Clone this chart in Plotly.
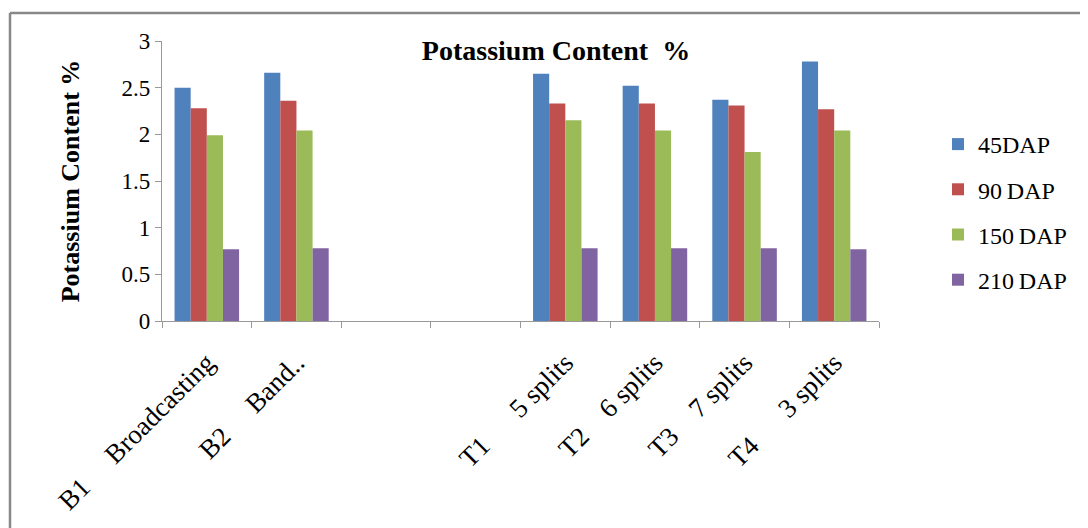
import plotly.graph_objects as go

NB = "\u00a0"
categories = ["B1" + NB*5 + "Broadcasting", "B2" + NB*5 + "Band..", NB, NB*2,
              "T1" + NB*6 + "5 splits", "T2" + NB*4 + "6 splits", "T3" + NB*4 + "7 splits", "T4" + NB*6 + "3 splits"]
series_names = ["45DAP", "90\u2009DAP", "150\u2009DAP", "210\u2009DAP"]
dap45 = [2.50, 2.66, None, None, 2.65, 2.52, 2.37, 2.78]
dap90 = [2.28, 2.36, None, None, 2.33, 2.33, 2.31, 2.27]
dap150 = [1.99, 2.04, None, None, 2.15, 2.04, 1.81, 2.04]
dap210 = [0.77, 0.78, None, None, 0.78, 0.78, 0.78, 0.77]
colors = ["#4F81BD", "#C0504D", "#9BBB59", "#8064A2"]

fig = go.Figure()
for i, (name, vals) in enumerate(zip(series_names, [dap45, dap90, dap150, dap210])):
    fig.add_trace(go.Bar(x=categories, y=vals, name=name, marker_color=colors[i],
                         marker_line_width=0, legendgroup=f"g{i}"))

OFF = 8  # page body margin
W, H = 1088, 528
L, R, T, B = 162 - OFF, 879 - OFF, 41 - OFF, 321 - OFF
pw, ph = R - L, B - T

def px_x(x):
    return (x - OFF - L) / pw

def px_y(y):
    return (B - (y - OFF)) / ph

fig.update_layout(
    width=W, height=H,
    margin=dict(l=L, r=W - R, t=T, b=H - B),
    paper_bgcolor="white", plot_bgcolor="white",
    font=dict(family="Liberation Serif", color="black", size=22),
    barmode="group", bargap=0.28, bargroupgap=0,
    showlegend=True,
    legend=dict(x=px_x(938), y=px_y(122), xanchor="left", yanchor="top",
                font=dict(size=24), tracegroupgap=11, itemwidth=30,
                bgcolor="rgba(0,0,0,0)"),
    title=dict(text="<b>Potassium Content" + NB*2 + "%</b>", x=(556 - OFF) / W, xanchor="center",
               y=1 - (50 - OFF) / H, yanchor="middle", font=dict(size=28, family="Liberation Serif")),
    shapes=[
        dict(type="line", xref="paper", yref="paper", x0=px_x(10), x1=px_x(1100),
             y0=px_y(13), y1=px_y(13), line=dict(color="#888888", width=2.5)),
        dict(type="line", xref="paper", yref="paper", x0=px_x(10), x1=px_x(10),
             y0=px_y(13), y1=px_y(540), line=dict(color="#888888", width=2.5)),
    ],
)
fig.update_xaxes(type="category", showline=True, linecolor="#999999", linewidth=1.2,
                 ticks="outside", tickson="boundaries", ticklen=6, tickcolor="#999999",
                 tickangle=-45, showgrid=False, tickfont=dict(size=27), ticklabelstandoff=14)
fig.update_yaxes(range=[0, 3], dtick=0.5, showline=True, linecolor="#999999", linewidth=1.2,
                 ticks="outside", ticklen=6, tickcolor="#999999", showgrid=False, zeroline=False,
                 tickfont=dict(size=23),
                 title=dict(text="<b>Potassium Content %</b>", font=dict(size=26), standoff=34))

fig.write_html("out.html")
